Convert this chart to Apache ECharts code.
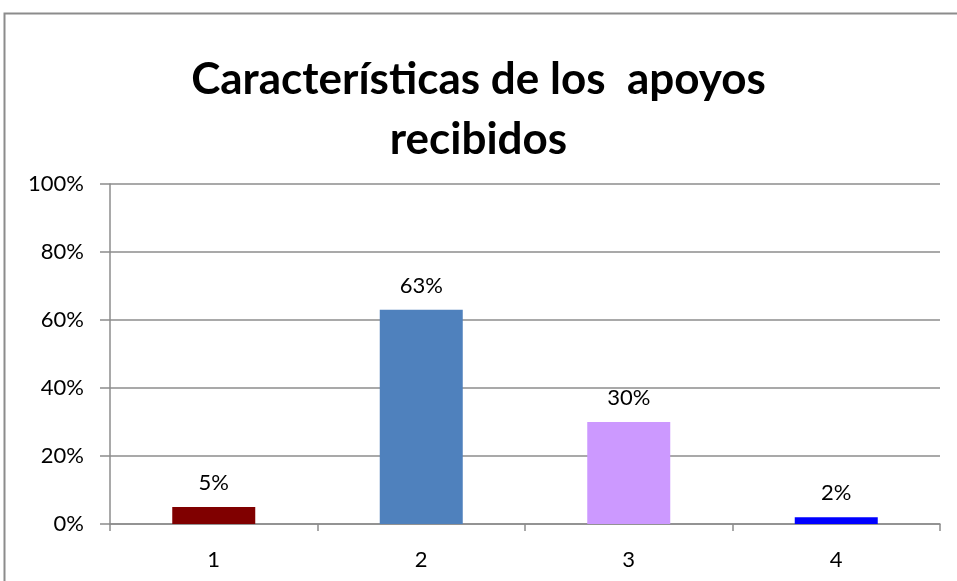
<!DOCTYPE html>
<html>
<head>
<meta charset="utf-8">
<script src="https://cdn.jsdelivr.net/npm/echarts@6/dist/echarts.min.js"></script>
<style>
  html, body { margin: 0; padding: 0; background: #fff; }
  #chart { width: 957px; height: 581px; }
</style>
</head>
<body>
<div id="chart"></div>
<script>
// datos
var categorias = ['1', '2', '3', '4']
var valores = [5, 63, 30, 2]
var colores = ['#800000', '#4F81BD', '#CC99FF', '#0000FF']
var titulo = 'Características de los  apoyos\nrecibidos'

var chart = echarts.init(document.getElementById('chart'))
var gris = '#8c8c8c'

chart.setOption({
  animation: false,
  textStyle: { fontFamily: 'Lato' },
  title: {
    text: titulo,
    left: 'center',
    top: 45,
    textStyle: {
      fontFamily: 'Lato',
      fontWeight: 'bold',
      fontSize: 44,
      lineHeight: 60,
      color: '#000'
    }
  },
  graphic: [{
    type: 'rect',
    shape: { x: 4.5, y: 13.5, width: 1000, height: 1000 },
    style: { fill: 'none', stroke: gris, lineWidth: 2 },
    silent: true
  }],
  grid: {
    left: 110,
    right: 17,
    top: 184,
    bottom: 57
  },
  xAxis: {
    type: 'category',
    data: categorias,
    axisLine: { lineStyle: { color: gris, width: 1.5 } },
    axisTick: { show: true, length: 7, lineStyle: { color: gris, width: 1.5 } },
    axisLabel: { color: '#000', fontSize: 22, margin: 25 }
  },
  yAxis: {
    type: 'value',
    min: 0,
    max: 100,
    interval: 20,
    axisLine: { show: true, lineStyle: { color: gris, width: 1.5 } },
    axisTick: { show: true, length: 10, lineStyle: { color: gris, width: 1.5 } },
    axisLabel: { color: '#000', fontSize: 22, margin: 26, formatter: '{value}%' },
    splitLine: { lineStyle: { color: gris, width: 1.5 } }
  },
  series: [{
    type: 'bar',
    barWidth: '40%',
    data: valores.map(function (v, i) {
      return { value: v, itemStyle: { color: colores[i] } }
    }),
    label: {
      show: true,
      position: 'top',
      distance: 13,
      color: '#000',
      fontSize: 22,
      formatter: '{c}%'
    }
  }]
})
</script>
</body>
</html>
